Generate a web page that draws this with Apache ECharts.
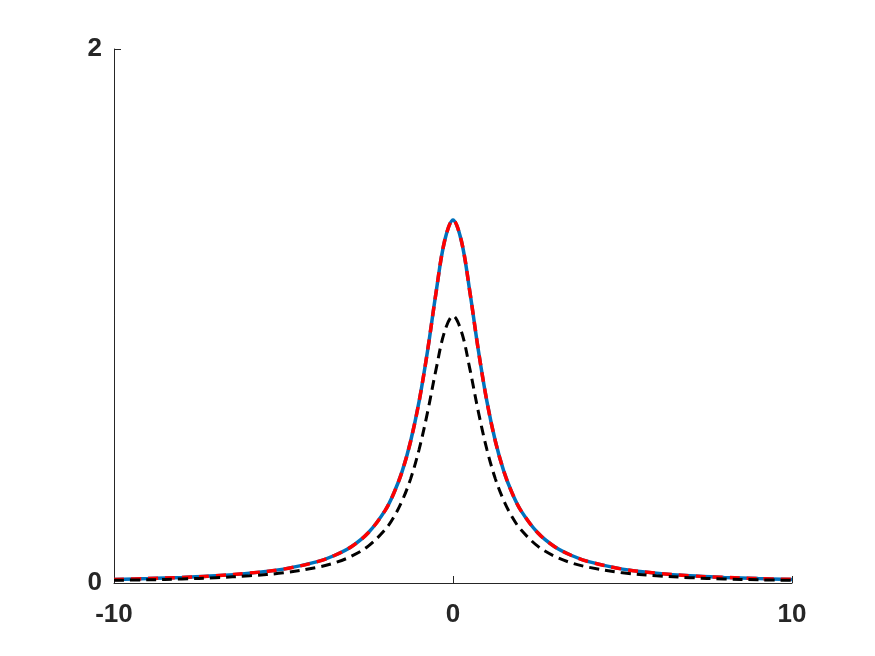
<!DOCTYPE html>
<html>
<head>
<meta charset="utf-8">
<script src="https://cdn.jsdelivr.net/npm/echarts@6/dist/echarts.min.js"></script>
<style>
  html, body { margin: 0; padding: 0; background: #fff; }
  #main { width: 875px; height: 656px; }
</style>
</head>
<body>
<div id="main"></div>
<script>
// sample positions along x
var xs = [-10, -9, -8, -7, -6, -5, -4, -3.5, -3, -2.5, -2, -1.75, -1.5, -1.25, -1, -0.75, -0.5, -0.25,
          0, 0.25, 0.5, 0.75, 1, 1.25, 1.5, 1.75, 2, 2.5, 3, 3.5, 4, 5, 6, 7, 8, 9, 10];

// solid blue curve (red dashed lies on top of it)
var blueVals = [0.0135, 0.0166, 0.021, 0.027, 0.037, 0.052, 0.080, 0.103, 0.136, 0.188, 0.272, 0.335, 0.418, 0.531, 0.680, 0.870, 1.088, 1.280,
                1.360, 1.280, 1.088, 0.870, 0.680, 0.531, 0.418, 0.335, 0.272, 0.188, 0.136, 0.103, 0.080, 0.052, 0.037, 0.027, 0.021, 0.0166, 0.0135];

// red dashed curve
var redVals = [0.0135, 0.0166, 0.021, 0.027, 0.037, 0.052, 0.080, 0.103, 0.136, 0.188, 0.272, 0.335, 0.418, 0.531, 0.680, 0.870, 1.088, 1.280,
               1.360, 1.280, 1.088, 0.870, 0.680, 0.531, 0.418, 0.335, 0.272, 0.188, 0.136, 0.103, 0.080, 0.052, 0.037, 0.027, 0.021, 0.0166, 0.0135];

// black dashed curve
var blackVals = [0.010, 0.012, 0.015, 0.020, 0.027, 0.038, 0.059, 0.075, 0.100, 0.138, 0.200, 0.246, 0.308, 0.390, 0.500, 0.640, 0.800, 0.941,
                 1.000, 0.941, 0.800, 0.640, 0.500, 0.390, 0.308, 0.246, 0.200, 0.138, 0.100, 0.075, 0.059, 0.038, 0.027, 0.020, 0.015, 0.012, 0.010];

var xTicks = [-10, 0, 10];
var yTicks = [0, 2];

function pairs(vals) {
  var out = [];
  for (var i = 0; i < xs.length; i++) {
    out.push([xs[i], vals[i]]);
  }
  return out;
}

var axisColor = '#262626';
var labelFont = {
  color: axisColor,
  fontSize: 26,
  fontWeight: 'bold',
  fontFamily: 'Liberation Sans, Arial, Helvetica, sans-serif'
};

var myChart = echarts.init(document.getElementById('main'), null, { renderer: 'canvas' });

var option = {
  animation: false,
  backgroundColor: '#ffffff',
  grid: { left: 114, right: 83, top: 49, bottom: 73 },
  xAxis: {
    type: 'value',
    min: xTicks[0],
    max: xTicks[xTicks.length - 1],
    interval: 10,
    axisLine: { show: true, onZero: false, lineStyle: { color: axisColor, width: 1 } },
    axisTick: { show: true, inside: true, length: 7, lineStyle: { color: axisColor } },
    splitLine: { show: false },
    axisLabel: Object.assign({ margin: 19 }, labelFont)
  },
  yAxis: {
    type: 'value',
    min: yTicks[0],
    max: yTicks[yTicks.length - 1],
    interval: 2,
    axisLine: { show: true, onZero: false, lineStyle: { color: axisColor, width: 1 } },
    axisTick: { show: true, inside: true, length: 7, lineStyle: { color: axisColor } },
    splitLine: { show: false },
    axisLabel: Object.assign({ margin: 12, padding: [5, 0, 0, 0] }, labelFont)
  },
  series: [
    {
      name: 'blue',
      type: 'line',
      data: pairs(blueVals),
      smooth: 0.35,
      showSymbol: false,
      symbol: 'none',
      lineStyle: { color: '#0072BD', width: 3.5 },
      z: 2
    },
    {
      name: 'red',
      type: 'line',
      data: pairs(redVals),
      smooth: 0.35,
      showSymbol: false,
      symbol: 'none',
      lineStyle: { color: '#FF0000', width: 3.5, type: [10, 7] },
      z: 3
    },
    {
      name: 'black',
      type: 'line',
      data: pairs(blackVals),
      smooth: 0.35,
      showSymbol: false,
      symbol: 'none',
      lineStyle: { color: '#000000', width: 3, type: [10, 6] },
      z: 4
    }
  ]
};

myChart.setOption(option);
</script>
</body>
</html>
